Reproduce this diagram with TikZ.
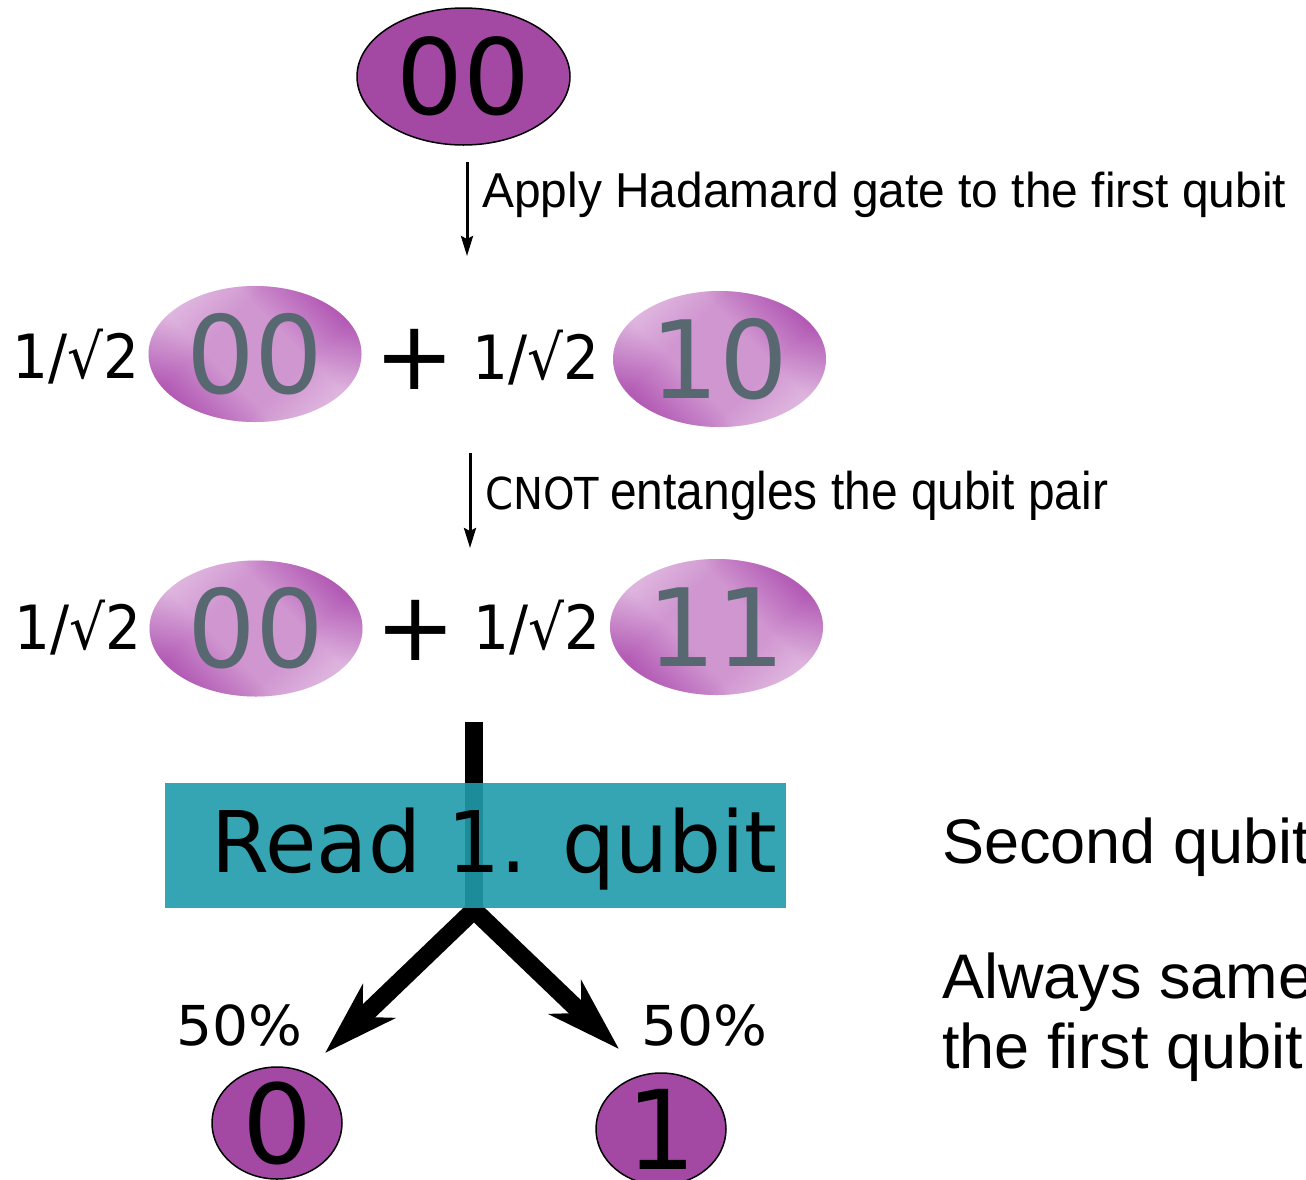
\documentclass[tikz,border=0pt]{standalone}
\usepackage{fontspec}
\usepackage{graphicx}
\usetikzlibrary{shapes.geometric,arrows.meta}
\newfontfamily\dvs{DejaVu Sans}
\newfontfamily\lib{Liberation Sans}
\newcommand{\fitw}[2]{\resizebox{#1}{\height}{#2}}
\newcommand{\fsz}[1]{\fontsize{#1}{#1}\selectfont}
\definecolor{qpurple}{RGB}{163,73,164}
\definecolor{qgray}{RGB}{88,104,112}
\definecolor{qteal}{RGB}{32,155,171}
\definecolor{qdark}{RGB}{160,52,164}
\definecolor{qmid}{RGB}{208,150,208}
\definecolor{qlight}{RGB}{244,228,244}
\pgfdeclarehorizontalshading{qbbase}{100bp}{color(0bp)=(qlight); color(25bp)=(qlight); color(38bp)=(qmid); color(62bp)=(qmid); color(75bp)=(qlight); color(100bp)=(qlight)}
\pgfdeclarehorizontalshading{qbedge}{100bp}{color(0bp)=(qdark); color(25bp)=(qdark); color(40bp)=(qmid); color(60bp)=(qmid); color(75bp)=(qdark); color(100bp)=(qdark)}
\tikzset{
  solidstate/.style={ellipse, draw=black, line width=1.5pt, fill=qpurple, inner sep=0pt, font=\dvs\fsz{105}, text=black},
  resultstate/.style={solidstate, inner sep=-20pt, font=\dvs\fsz{110}, minimum width=130pt, minimum height=112pt},
  superstate/.style={ellipse, shade, shading=qbbase, shading angle=-45,
    postaction={shade, shading=qbedge, shading angle=45, fill opacity=0.6},
    inner sep=0pt, font=\dvs\fsz{108}, text=qgray, minimum width=213pt, minimum height=136pt},
  amp/.style={anchor=base west, inner sep=0pt, font=\dvs\fsz{61}},
  plussign/.style={inner sep=0pt, font=\dvs\fsz{96}},
  caption/.style={anchor=base west, inner sep=0pt},
  thinarrow/.style={line width=3pt, -{Stealth[length=20pt,width=12pt,inset=3pt]}},
  thickarrow/.style={line width=18pt, line join=miter, {Stealth[length=74pt,width=46pt,inset=22pt]}-{Stealth[length=74pt,width=46pt,inset=22pt]}},
  pct/.style={anchor=base west, inner sep=0pt, font=\dvs\fsz{55}},
  note/.style={anchor=base west, inner sep=0pt, font=\lib\fsz{63}}
}
\begin{document}
\begin{tikzpicture}[x=1pt,y=-1pt]
\useasboundingbox (0,0) rectangle (1306,1179);
\clip (0,0) rectangle (1306,1179);
\fill[white] (0,0) rectangle (1306,1179);
% initial state
\node[solidstate, minimum width=213pt, minimum height=137pt] (s0) at (463.5,76.5) {00};
\coordinate (a1s) at (467,162);
\coordinate (a1e) at (467,256);
\draw[thinarrow] (a1s) -- (a1e);
\node[caption, font=\lib\fsz{49}] (lab1) at (482,207) {\fitw{804pt}{Apply Hadamard gate to the first qubit}};
% superposition
\node[amp] (c1) at (12,378) {\fitw{127pt}{1/√2}};
\node[superstate] (s1a) at (255,354) {00};
\node[plussign] (p1) at (415,359) {+};
\node[amp] (c2) at (472,379) {\fitw{127pt}{1/√2}};
\node[superstate] (s1b) at (719.5,359) {10};
\coordinate (a2s) at (470,453);
\coordinate (a2e) at (470,548);
\draw[thinarrow] (a2s) -- (a2e);
\node[caption, font=\dvs\fsz{44}] (cnot) at (485,509) {\fitw{114pt}{CNOT}};
\node[caption, font=\lib\fsz{53}] (lab2) at (610,509) {\fitw{498pt}{entangles the qubit pair}};
% entangled
\node[amp] (c3) at (14,649) {\fitw{127pt}{1/√2}};
\node[superstate] (s2a) at (256,628.5) {00};
\node[plussign] (p2) at (416,630) {+};
\node[amp] (c4) at (473,649) {\fitw{127pt}{1/√2}};
\node[superstate] (s2b) at (716.5,627) {11};
% measurement
\coordinate (m0) at (474,722);
\coordinate (apex) at (474,910);
\coordinate (tipL) at (325,1053);
\coordinate (tipR) at (619,1049);
\draw[line width=18pt] (m0) -- (apex);
\draw[thickarrow] (tipL) -- (apex) -- (tipR);
\node[rectangle, fill=qteal, fill opacity=0.9, text opacity=1, minimum width=621pt, minimum height=125pt, inner sep=0pt] (read) at (475.5,845.5) {};
\node[caption, font=\dvs\fsz{85}] (readtxt) at (211,872) {\fitw{566pt}{Read 1. qubit}};
\node[pct] (pL) at (176,1045) {\fitw{126pt}{50\%}};
\node[pct] (pR) at (641,1045) {\fitw{126pt}{50\%}};
\node[resultstate] (r0) at (277,1123) {0};
\node[resultstate] (r1) at (661,1129) {1};
% note
\node[note] (t1) at (942,863) {Second qubit};
\node[note] (t2) at (942,998) {Always same};
\node[note] (t3) at (942,1068) {the first qubit};
\end{tikzpicture}
\end{document}
